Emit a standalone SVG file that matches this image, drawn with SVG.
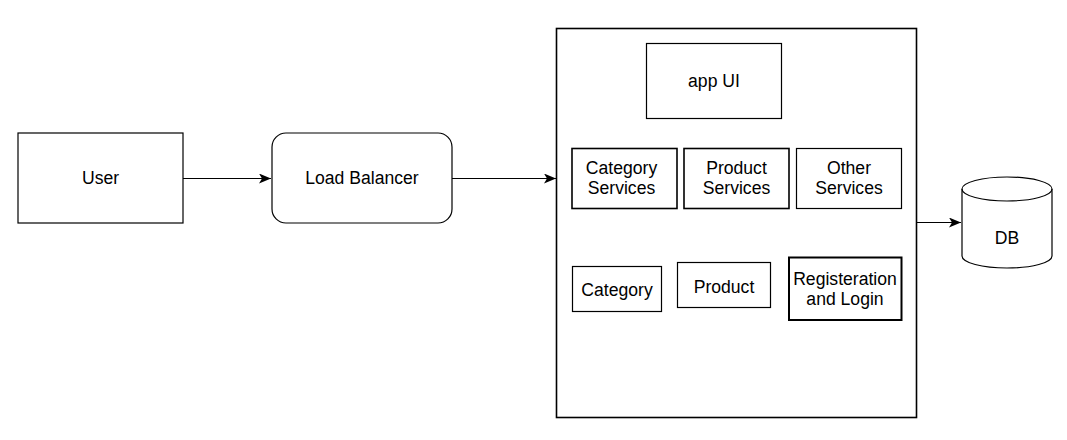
<svg xmlns="http://www.w3.org/2000/svg" width="1067" height="440" viewBox="0 0 1067 440">
<style>
.box{fill:#fff;stroke:#000;stroke-width:1.2}
.thick{stroke-width:1.6}
.t{font-family:"Liberation Sans",Arial,sans-serif;font-size:17.6px;fill:#000;text-anchor:middle;dominant-baseline:central}
.c{fill:none;stroke:#000;stroke-width:1.1}
</style>
<defs>
<marker id="arr" viewBox="0 0 12 10" refX="12" refY="5" markerWidth="12" markerHeight="10" markerUnits="userSpaceOnUse" orient="auto">
<path d="M0,0 L12,5 L0,10 L3,5 Z" fill="#000"/>
</marker>
</defs>
<rect width="1067" height="440" fill="#fff"/>
<g id="user"><rect class="box" x="18" y="133" width="165" height="90"/><text class="t" x="100.5" y="178">User</text></g>
<g id="lb"><rect class="box" x="272" y="133" width="180" height="90" rx="14"/><text class="t" x="362" y="178">Load Balancer</text></g>
<g id="container"><rect class="box thick" x="556.5" y="28.5" width="360" height="389"/></g>
<g id="appui"><rect class="box" x="646.5" y="43.5" width="135" height="75"/><text class="t" x="714" y="81">app UI</text></g>
<g id="catsvc"><rect class="box thick" x="572" y="148.5" width="105" height="60"/><text class="t" x="621.5" y="168">Category</text><text class="t" x="621.5" y="188">Services</text></g>
<g id="prodsvc"><rect class="box thick" x="684" y="148.5" width="105" height="60"/><text class="t" x="736.5" y="168">Product</text><text class="t" x="736.5" y="188">Services</text></g>
<g id="othersvc"><rect class="box" x="796.5" y="148.5" width="105" height="60"/><text class="t" x="849" y="168">Other</text><text class="t" x="849" y="188">Services</text></g>
<g id="cat"><rect class="box" x="572.5" y="266.5" width="89" height="45"/><text class="t" x="617" y="290">Category</text></g>
<g id="prod"><rect class="box" x="677.5" y="262.5" width="93" height="45"/><text class="t" x="724" y="287">Product</text></g>
<g id="reg"><rect class="box" x="789" y="257.5" width="112.5" height="62.5" style="stroke-width:2"/><text class="t" x="845" y="279">Registeration</text><text class="t" x="845" y="299">and Login</text></g>
<g id="db">
<path class="box" d="M962,189 A45,12 0 0 1 1052,189 L1052,256 A45,12 0 0 1 962,256 Z"/>
<path class="c" d="M962,189 A45,12 0 0 0 1052,189"/>
<text class="t" x="1007" y="238">DB</text>
</g>
<g id="connectors">
<line class="c" x1="183" y1="178.5" x2="271" y2="178.5" marker-end="url(#arr)"/>
<line class="c" x1="452" y1="178.5" x2="556" y2="178.5" marker-end="url(#arr)"/>
<line class="c" x1="917" y1="222.5" x2="961" y2="222.5" marker-end="url(#arr)"/>
</g>
</svg>
